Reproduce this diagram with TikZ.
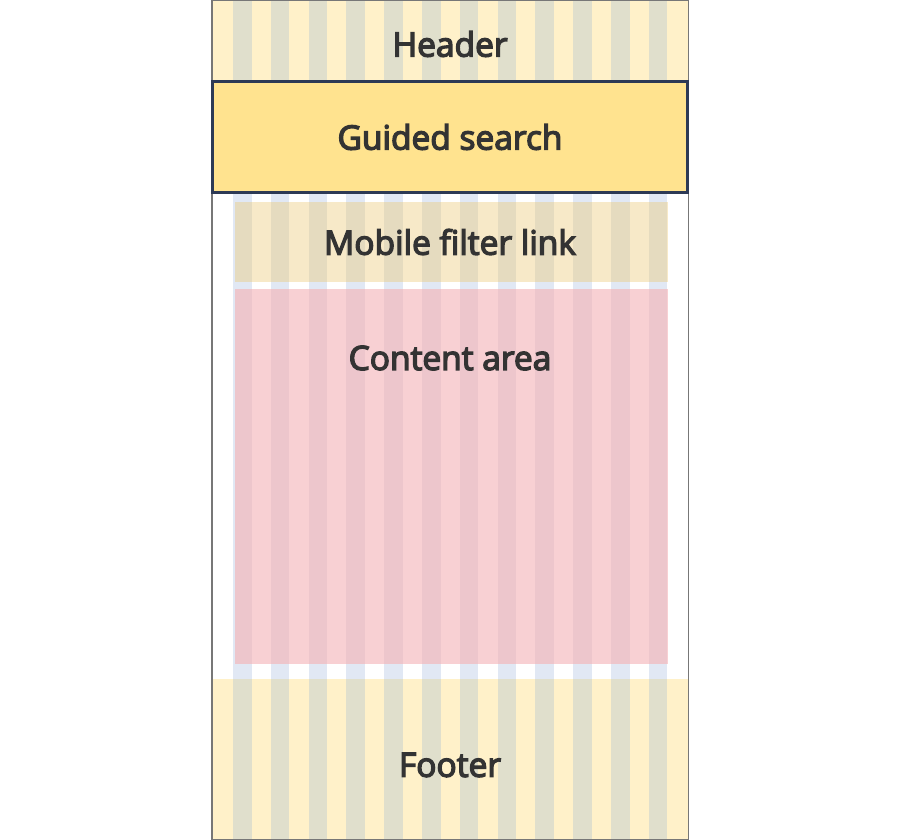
\documentclass[tikz,border=0pt]{standalone}
\usepackage{fontspec}
\newfontfamily\boxfont{Open Sans}[FakeBold=4]
\usepackage{tikz}

\definecolor{hdrfill}{HTML}{FFF1C9}
\definecolor{hdrstripe}{HTML}{E0DFCC}
\definecolor{gapstripe}{HTML}{E1E8F4}
\definecolor{mobfill}{HTML}{F7E9C8}
\definecolor{mobstripe}{HTML}{E5DBBF}
\definecolor{cntfill}{HTML}{F8D0D3}
\definecolor{cntstripe}{HTML}{EDC6CC}
\definecolor{gsfill}{HTML}{FFE38F}
\definecolor{gsborder}{HTML}{2D3A55}
\definecolor{framegray}{HTML}{777777}
\definecolor{textdark}{HTML}{333333}

% twelve grid columns between #1 and #2 (y), in colour #3
\newcommand{\gridcols}[3]{%
  \foreach \k in {0,...,11}
    \fill[#3] ({233+\k*37.8},#1) rectangle ({251.6+\k*37.8},#2);%
}

\begin{document}
\begin{tikzpicture}[x=1pt,y=-1pt]
	\useasboundingbox (0,0) rectangle (900,840);
	\fill[white] (0,0) rectangle (900,840);
	% bands
	\fill[hdrfill] (211,0) rectangle (689,80);
	\gridcols{0}{80}{hdrstripe}
	\fill[hdrfill] (211,679) rectangle (689,840);
	\gridcols{679}{840}{hdrstripe}
	\gridcols{194}{679}{gapstripe}
	\begin{scope}
		\clip (235,202) rectangle (668,282);
		\fill[mobfill] (235,202) rectangle (668,282);
		\gridcols{202}{282}{mobstripe}
	\end{scope}
	\begin{scope}
		\clip (235,289) rectangle (668,664);
		\fill[cntfill] (235,289) rectangle (668,664);
		\gridcols{289}{664}{cntstripe}
	\end{scope}
	% frame and guided search
	\draw[framegray, line width=1.5pt] (211.75,0.75) rectangle (688.25,839.25);
	\draw[gsborder, fill=gsfill, line width=3pt] (212.5,81.5) rectangle (687.5,192.5);
	% labels
	\begin{scope}[every node/.style={font=\boxfont\fontsize{33.5}{38}\selectfont, text=textdark, inner sep=0pt}]
		\node (header)  at (450,44)  {Header};
		\node (guided)  at (450,137) {Guided search};
		\node (mobile)  at (450,242) {Mobile filter link};
		\node (content) at (450,358) {Content area};
		\node (footer)  at (450,765) {Footer};
	\end{scope}
\end{tikzpicture}
\end{document}
